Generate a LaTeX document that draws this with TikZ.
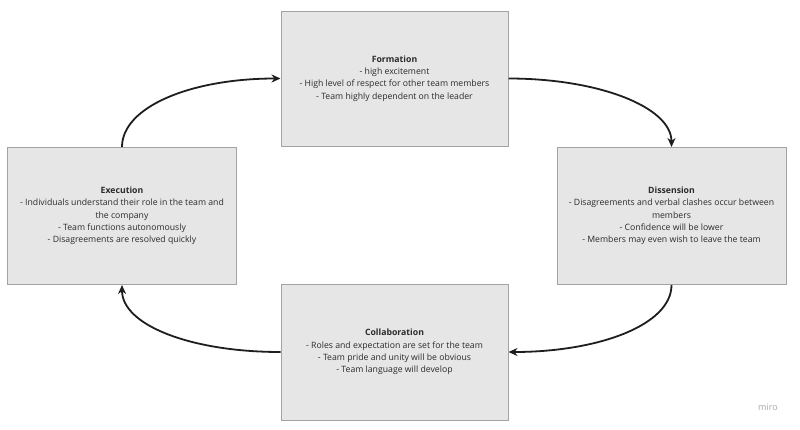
\documentclass[tikz,border=0pt]{standalone}
\usepackage{fontspec}
\setmainfont{Open Sans}
\usetikzlibrary{arrows.meta}
\definecolor{boxfill}{HTML}{E6E6E6}
\definecolor{boxline}{HTML}{A3A3A3}
\definecolor{txt}{HTML}{2B2B2B}
\definecolor{arr}{HTML}{1E1E1E}
\tikzset{
  stage/.style={draw=boxline, line width=1pt, fill=boxfill, align=center,
    inner sep=0pt, text=txt, font=\fontsize{8.7}{12.3}\selectfont},
  flow/.style={draw=arr, line width=1.8pt, -{Stealth[length=9pt,width=8pt]}},
}
\begin{document}
\begin{tikzpicture}[x=1pt,y=-1pt]
\useasboundingbox (0,0) rectangle (800,429);
\fill[white] (0,0) rectangle (800,429);
% boxes
\node[stage, minimum width=227pt, minimum height=135pt] (form) at (394.5,78.5)
  {\textbf{Formation}\\- high excitement\\- High level of respect for other team members\\- Team highly dependent on the leader};
\node[stage, minimum width=229pt, minimum height=137pt] (exec) at (122,216)
  {\textbf{Execution}\\- Individuals understand their role in the team and\\the company\\- Team functions autonomously\\- Disagreements are resolved quickly};
\node[stage, minimum width=229pt, minimum height=137pt] (diss) at (671.5,216)
  {\textbf{Dissension}\\- Disagreements and verbal clashes occur between\\members\\- Confidence will be lower\\- Members may even wish to leave the team};
\node[stage, minimum width=227pt, minimum height=136pt] (coll) at (394.5,352)
  {\textbf{Collaboration}\\- Roles and expectation are set for the team\\- Team pride and unity will be obvious\\- Team language will develop};
% connectors
\draw[flow] (exec.north) .. controls ++(0,-40) and ++(-90,0) .. (form.west);
\draw[flow] (form.east) .. controls ++(90,0) and ++(0,-40) .. (diss.north);
\draw[flow] (diss.south) .. controls ++(0,40) and ++(90,0) .. (coll.east);
\draw[flow] (coll.west) .. controls ++(-90,0) and ++(0,40) .. (exec.south);
% watermark
\node[text=black!35, font=\fontsize{9}{10}\selectfont] (miro) at (768,407) {miro};
\end{tikzpicture}
\end{document}
